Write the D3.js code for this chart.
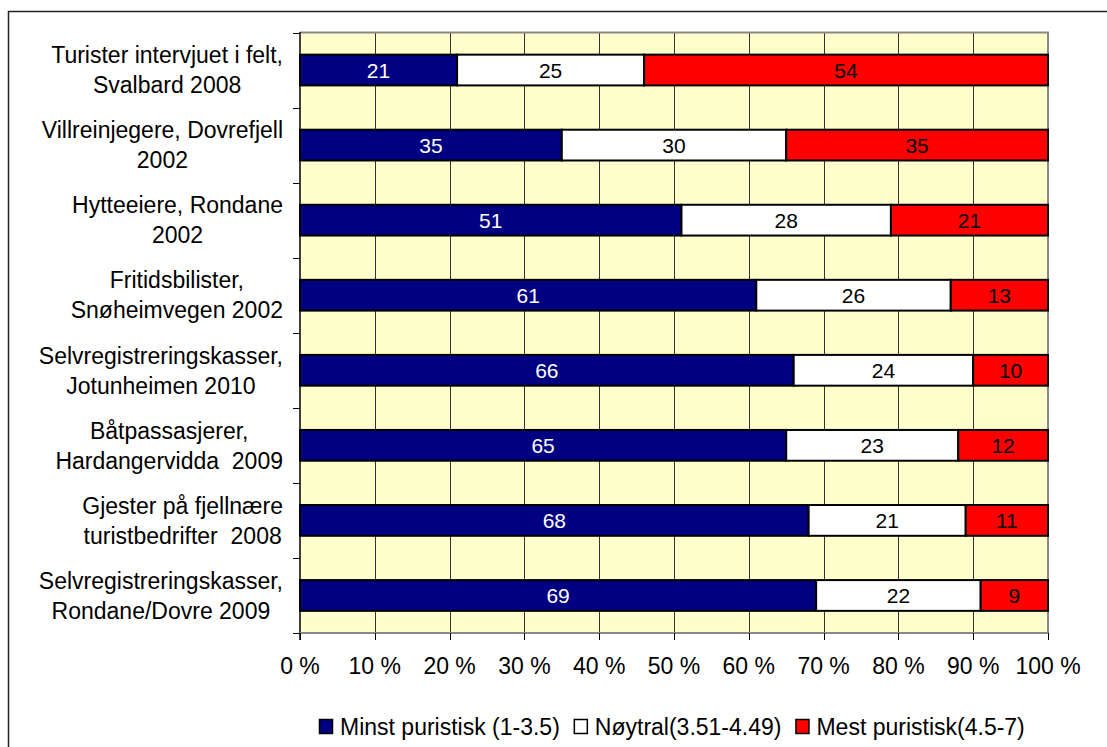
<!DOCTYPE html>
<html><head><meta charset="utf-8">
<script src="https://cdn.jsdelivr.net/npm/d3@7"></script>
<style>body{margin:0;background:#fff}svg{display:block;font-family:"Liberation Sans",Arial,sans-serif}text{white-space:pre}</style>
</head><body><svg id="c" width="1107" height="747"></svg>
<script>
const categories = [
  ["Turister intervjuet i felt,", "Svalbard 2008"],
  ["Villreinjegere, Dovrefjell", "2002"],
  ["Hytteeiere, Rondane", "2002"],
  ["Fritidsbilister,", "Snøheimvegen 2002"],
  ["Selvregistreringskasser,", "Jotunheimen 2010"],
  ["Båtpassasjerer,", "Hardangervidda  2009"],
  ["Gjester på fjellnære", "turistbedrifter  2008"],
  ["Selvregistreringskasser,", "Rondane/Dovre 2009"]
];
const seriesNames = ["Minst puristisk (1-3.5)", "Nøytral(3.51-4.49)", "Mest puristisk(4.5-7)"];
const minst  = [21, 35, 51, 61, 66, 65, 68, 69];
const noytral = [25, 30, 28, 26, 24, 23, 21, 22];
const mest   = [54, 35, 21, 13, 10, 12, 11, 9];
const xTicks = [0,10,20,30,40,50,60,70,80,90,100];
const colors = ["#000080", "#FFFFFF", "#FF0000"];
const labelColors = ["#FFFFFF", "#000000", "#000000"];

const svg = d3.select("#c");
const L = 300, R = 1048, T = 32.5, B = 633;
const x = d3.scaleLinear().domain([0,100]).range([L,R]);
const y = d3.scaleBand().domain(d3.range(categories.length)).range([T,B]).padding(0);
const barH = y.bandwidth()*0.41;

// outer border
svg.append("rect").attr("x",8.5).attr("y",11.5).attr("width",1110).attr("height",760)
  .attr("fill","none").attr("stroke","#222").attr("stroke-width",1.5);

// plot bg
svg.append("rect").attr("x",L).attr("y",T).attr("width",R-L).attr("height",B-T).attr("fill","#FFFFCC");
// gridlines
svg.append("g").selectAll("line").data(xTicks.slice(1,-1)).join("line")
  .attr("x1",d=>Math.round(x(d))+0.5).attr("x2",d=>Math.round(x(d))+0.5)
  .attr("y1",T).attr("y2",B).attr("stroke","#333").attr("stroke-width",1);
// frame top/right
svg.append("path").attr("d",`M${L},${T}H${R}V${B}`).attr("fill","none").attr("stroke","#888").attr("stroke-width",2);

// bars
const stacks = d3.stack().keys([0,1,2])(d3.range(categories.length).map(i=>[minst[i],noytral[i],mest[i]]));
const gBars = svg.append("g");
stacks.forEach((s,k)=>{
  gBars.selectAll(null).data(s).join("rect")
    .attr("x",d=>x(d[0])).attr("width",d=>x(d[1])-x(d[0]))
    .attr("y",(d,i)=>y(i)+(y.bandwidth()-barH)/2).attr("height",barH)
    .attr("fill",colors[k]).attr("stroke","#000").attr("stroke-width",2);
});
stacks.forEach((s,k)=>{
  gBars.selectAll(null).data(s).join("text")
    .attr("x",d=>(x(d[0])+x(d[1]))/2).attr("y",(d,i)=>y(i)+y.bandwidth()/2)
    .attr("dy","0.36em").attr("text-anchor","middle").attr("font-size",21)
    .attr("fill",labelColors[k]).text(d=>d[1]-d[0]);
});

// y axis
const ya = svg.append("g");
ya.append("line").attr("x1",L).attr("x2",L).attr("y1",T-0.5).attr("y2",B+7).attr("stroke","#000").attr("stroke-width",1.5);
ya.selectAll(".yt").data(d3.range(categories.length+1)).join("line")
  .attr("x1",293).attr("x2",L).attr("y1",i=>Math.round(T+i*y.bandwidth())+0.5).attr("y2",i=>Math.round(T+i*y.bandwidth())+0.5)
  .attr("stroke","#000").attr("stroke-width",1);
// category labels
categories.forEach((lines,i)=>{
  const g = svg.append("g");
  const cy = y(i)+y.bandwidth()/2;
  const lh = 30;
  const ts = lines.map((ln,j)=>g.append("text").attr("font-size",23).attr("fill","#000")
    .attr("y", cy + (j-(lines.length-1)/2)*lh).attr("dy","0.36em").attr("text-anchor","middle").text(ln));
  const w = d3.max(ts, t=>t.node().getComputedTextLength());
  ts.forEach(t=>t.attr("x", 283 - w/2));
});

// x axis
const xa = svg.append("g");
xa.append("line").attr("x1",L).attr("x2",R+1).attr("y1",B).attr("y2",B).attr("stroke","#888").attr("stroke-width",2);
xa.selectAll(".xt").data(xTicks).join("line")
  .attr("x1",d=>Math.round(x(d))+0.5).attr("x2",d=>Math.round(x(d))+0.5).attr("y1",B).attr("y2",B+7)
  .attr("stroke","#000").attr("stroke-width",1);
xa.selectAll("text").data(xTicks).join("text")
  .attr("x",d=>x(d)).attr("y",674).attr("text-anchor","middle").attr("font-size",23).attr("fill","#000")
  .text(d=>d+" %");

// legend
const lg = svg.append("g");
let lx = 319;
seriesNames.forEach((n,k)=>{
  lg.append("rect").attr("x",lx+0.5).attr("y",719.5).attr("width",13).attr("height",14)
    .attr("fill",colors[k]).attr("stroke","#000").attr("stroke-width",1.5);
  const t = lg.append("text").attr("x",lx+21).attr("y",735).attr("font-size",23).attr("fill","#000").text(n);
  lx = lx + 21 + t.node().getComputedTextLength() + 14;
});
</script></body></html>
